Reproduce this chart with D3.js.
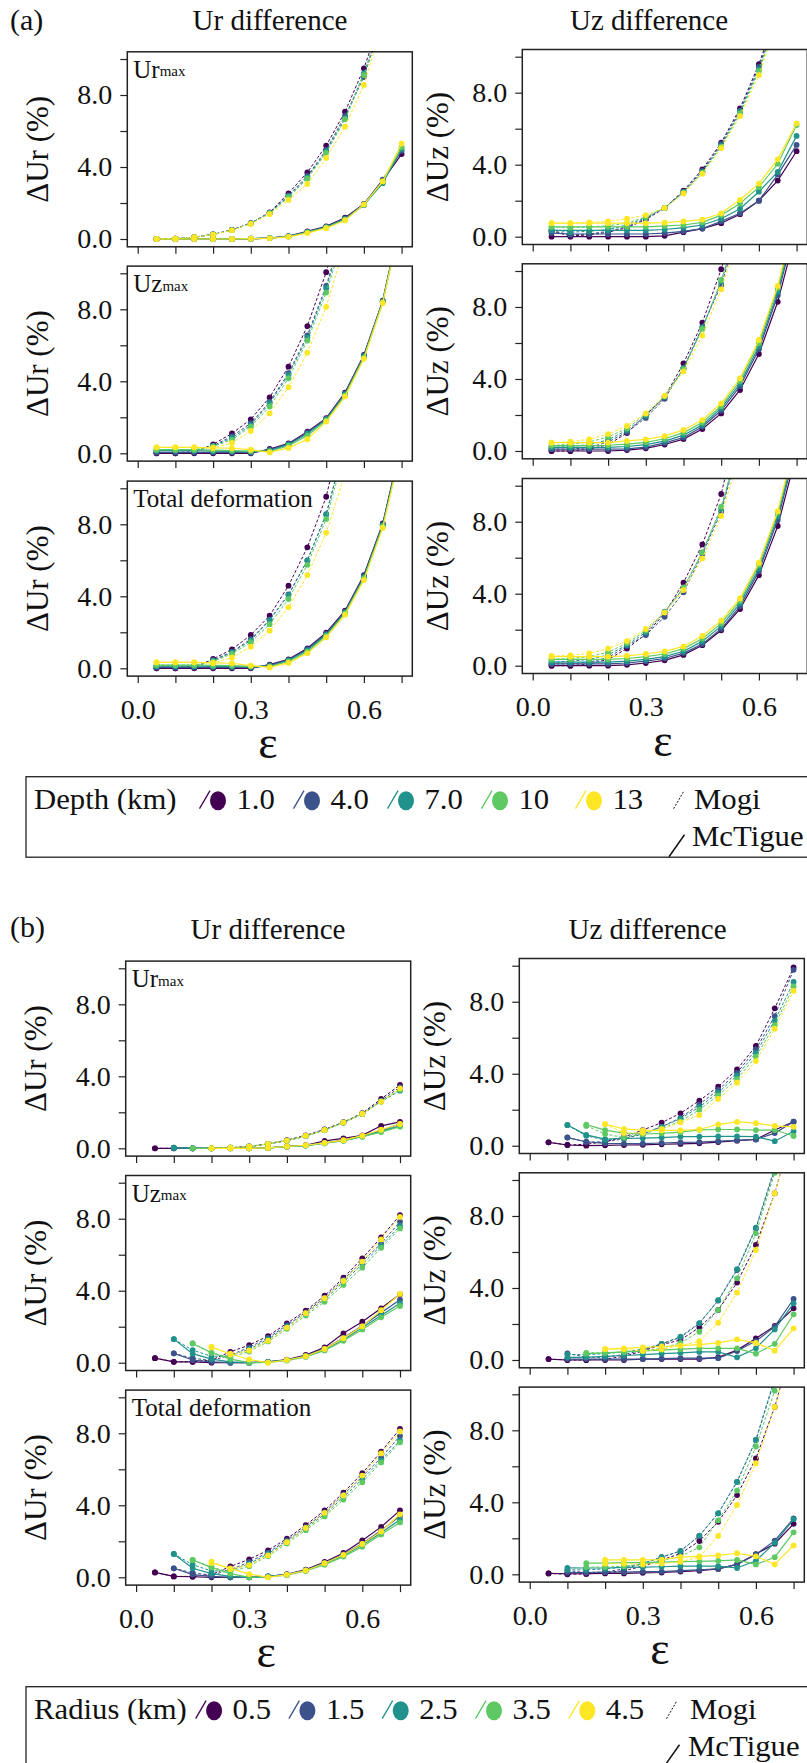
<!DOCTYPE html>
<html><head><meta charset="utf-8">
<script src="https://cdn.jsdelivr.net/npm/d3@7"></script>
<style>
body{margin:0;background:#fff;}
svg{display:block;font-family:"Liberation Serif","Times New Roman",serif;}
</style></head><body>
<svg id="c" width="807" height="1763"></svg>
<script>
// ---------- data ----------
const eps = [0.05,0.10,0.15,0.20,0.25,0.30,0.35,0.40,0.45,0.50,0.55,0.60,0.65,0.70];
const colors = ["#440154","#3b528b","#21918c","#5ec962","#fde725"];
const depthLabels = ["1.0","4.0","7.0","10","13"];
const radiusLabels = ["0.5","1.5","2.5","3.5","4.5"];
const yTicks = [0,2,4,6,8,10];
const yTickLabels = [0,4,8];
const xTicks = [0,0.1,0.2,0.3,0.4,0.5,0.6,0.7];
const xTickLabels = [0,0.3,0.6];

// (a) depth series: purple, blue, teal, green, yellow
const aUrMaxUr_mogi = [
 [0.0,0.02,0.1,0.26,0.5,0.88,1.48,2.54,3.7,5.19,7.07,9.48,12.5,null],
 [0.0,0.02,0.1,0.25,0.5,0.87,1.45,2.42,3.5,4.95,6.85,9.0,12.2,null],
 [0.0,0.02,0.1,0.25,0.5,0.87,1.45,2.38,3.42,4.88,6.72,9.2,12.3,null],
 [0.0,0.02,0.1,0.25,0.49,0.86,1.43,2.32,3.35,4.78,6.65,9.1,12.2,null],
 [0.0,0.02,0.1,0.24,0.48,0.84,1.38,2.17,3.06,4.5,6.24,8.56,12.0,null]];
const aUrMaxUr_mct = [
 [0.0,0.0,0.0,0.0,0.0,0.02,0.05,0.16,0.42,0.7,1.18,1.95,3.25,4.72],
 [0.0,0.0,0.0,0.0,0.0,0.02,0.05,0.15,0.4,0.68,1.15,1.93,3.3,4.9],
 [0.0,0.0,0.0,0.0,0.0,0.02,0.05,0.14,0.38,0.65,1.1,1.88,3.1,5.0],
 [0.0,0.0,0.0,0.0,0.0,0.02,0.05,0.14,0.37,0.64,1.08,1.9,3.2,5.1],
 [0.0,0.0,0.0,0.0,0.0,0.02,0.04,0.12,0.33,0.6,1.03,1.92,3.2,5.3]];
const aUrMaxUz_mogi = [
 [0.3,0.05,0.1,0.25,0.5,0.95,1.6,2.56,3.74,5.22,7.13,9.58,12.6,null],
 [0.35,0.1,0.15,0.3,0.55,1.0,1.6,2.5,3.65,5.15,7.0,9.45,12.4,null],
 [0.4,0.25,0.3,0.4,0.65,1.05,1.6,2.48,3.6,5.05,6.95,9.3,12.3,null],
 [0.55,0.5,0.55,0.6,0.75,1.1,1.6,2.45,3.55,5.0,6.85,9.2,12.2,null],
 [0.75,0.75,0.8,0.85,1.0,1.2,1.6,2.4,3.5,4.92,6.7,8.98,12.0,null]];
const aUrMaxUz_mct = [
 [0.0,0.0,0.0,0.0,0.0,0.0,0.05,0.25,0.45,0.75,1.25,2.0,3.12,4.75],
 [0.2,0.15,0.15,0.15,0.15,0.15,0.2,0.3,0.45,0.85,1.3,2.0,3.45,5.1],
 [0.35,0.35,0.35,0.35,0.35,0.35,0.4,0.5,0.65,1.0,1.55,2.5,3.6,5.6],
 [0.55,0.55,0.55,0.55,0.55,0.55,0.6,0.65,0.8,1.2,1.85,2.75,4.05,6.2],
 [0.75,0.75,0.75,0.75,0.75,0.75,0.78,0.85,0.95,1.3,2.05,2.95,4.3,6.3]];
const aUzMaxUr_mogi = [
 [0.0,0.0,0.05,0.5,1.1,1.89,3.11,4.81,7.07,10.06,13.8,null,null,null],
 [0.05,0.05,0.1,0.42,0.95,1.67,2.85,4.45,6.55,9.3,12.8,null,null,null],
 [0.15,0.15,0.15,0.4,0.85,1.57,2.78,4.35,6.44,9.17,12.6,null,null,null],
 [0.2,0.2,0.2,0.38,0.75,1.48,2.6,4.17,6.26,8.93,12.3,null,null,null],
 [0.33,0.33,0.33,0.3,0.58,1.24,2.22,3.67,5.59,8.14,11.6,null,null,null]];
const aUzMaxUr_mct = [
 [0.0,0.0,0.0,0.0,0.0,0.0,0.24,0.55,1.2,1.95,3.37,5.46,8.48,13.3],
 [0.05,0.05,0.05,0.05,0.05,0.03,0.2,0.52,1.15,1.92,3.32,5.42,8.45,13.2],
 [0.15,0.15,0.15,0.12,0.1,0.08,0.15,0.48,1.08,1.88,3.28,5.38,8.42,13.2],
 [0.2,0.2,0.2,0.18,0.15,0.12,0.1,0.42,0.98,1.83,3.22,5.32,8.4,13.2],
 [0.33,0.33,0.33,0.3,0.28,0.2,0.05,0.3,0.78,1.76,3.15,5.25,8.35,13.1]];
const aUzMaxUz_mogi = [
 [0.0,0.0,0.1,0.35,1.0,2.0,3.0,4.87,7.13,10.1,13.6,null,null,null],
 [0.1,0.1,0.2,0.5,1.05,1.84,2.9,4.6,6.9,9.22,12.6,null,null,null],
 [0.2,0.25,0.35,0.62,1.15,1.95,3.0,4.6,6.85,9.4,12.8,null,null,null],
 [0.3,0.38,0.5,0.78,1.25,2.05,3.05,4.55,6.78,9.5,12.9,null,null,null],
 [0.46,0.52,0.65,0.94,1.39,2.09,3.07,4.41,6.41,8.98,12.3,null,null,null]];
const aUzMaxUz_mct = [
 [0.0,0.0,0.0,0.0,0.05,0.15,0.36,0.66,1.22,2.09,3.39,5.39,8.29,12.3],
 [0.1,0.1,0.1,0.1,0.12,0.22,0.45,0.75,1.35,2.25,3.6,5.65,8.65,12.8],
 [0.2,0.2,0.2,0.2,0.25,0.35,0.55,0.88,1.45,2.38,3.75,5.8,8.85,13.0],
 [0.3,0.3,0.3,0.32,0.38,0.48,0.68,1.02,1.58,2.5,3.9,6.0,9.05,13.2],
 [0.46,0.46,0.46,0.46,0.56,0.65,0.83,1.17,1.72,2.65,4.04,6.17,9.17,13.5]];
const aTotUr_mogi = [
 [0.0,0.0,0.05,0.52,1.05,1.85,2.92,4.59,6.72,9.53,14.0,null,null,null],
 [0.05,0.05,0.08,0.45,0.92,1.62,2.7,4.1,6.0,8.55,12.5,null,null,null],
 [0.12,0.12,0.12,0.42,0.88,1.55,2.68,4.07,5.98,8.57,12.5,null,null,null],
 [0.18,0.18,0.18,0.38,0.8,1.45,2.45,3.85,5.75,8.3,12.1,null,null,null],
 [0.33,0.33,0.33,0.3,0.6,1.2,2.09,3.39,5.18,7.53,10.8,null,null,null]];
const aTotUr_mct = [
 [0.0,0.0,0.0,0.0,0.0,0.0,0.2,0.5,1.11,1.98,3.2,5.18,8.05,12.6],
 [0.05,0.05,0.05,0.05,0.05,0.03,0.17,0.47,1.06,1.92,3.15,5.12,8.0,12.5],
 [0.12,0.12,0.12,0.1,0.1,0.07,0.13,0.43,1.0,1.86,3.1,5.06,7.95,12.5],
 [0.18,0.18,0.18,0.16,0.15,0.11,0.09,0.38,0.92,1.8,3.04,5.0,7.88,12.4],
 [0.33,0.33,0.33,0.3,0.28,0.15,0.05,0.3,0.83,1.72,2.98,4.9,7.8,12.3]];
const aTotUz_mogi = [
 [0.0,0.0,0.1,0.35,0.95,1.75,2.9,4.61,6.74,9.54,14.0,null,null,null],
 [0.1,0.1,0.2,0.45,1.1,1.7,2.72,4.08,6.2,8.56,12.4,null,null,null],
 [0.2,0.25,0.35,0.6,1.15,1.85,3.0,4.3,6.3,8.7,12.5,null,null,null],
 [0.35,0.4,0.5,0.75,1.25,1.95,2.98,4.35,6.3,8.83,12.6,null,null,null],
 [0.54,0.57,0.69,0.95,1.37,2.04,2.95,4.2,5.96,8.32,11.8,null,null,null]];
const aTotUz_mct = [
 [0.0,0.0,0.0,0.0,0.05,0.15,0.3,0.6,1.14,1.97,3.15,5.03,7.76,11.8],
 [0.1,0.1,0.1,0.1,0.15,0.25,0.4,0.7,1.2,2.05,3.3,5.25,8.1,12.2],
 [0.2,0.2,0.2,0.2,0.25,0.35,0.5,0.8,1.35,2.2,3.45,5.4,8.3,12.4],
 [0.35,0.35,0.35,0.35,0.4,0.5,0.65,0.95,1.5,2.35,3.6,5.6,8.5,12.6],
 [0.5,0.5,0.5,0.5,0.55,0.65,0.8,1.07,1.65,2.5,3.74,5.72,8.59,12.8]];

// (b) radius series
const bUrMaxUr_mogi = [
 [0.0,0.0,0.0,0.0,0.03,0.1,0.25,0.45,0.72,1.05,1.45,1.95,2.74,3.52],
 [null,0.03,0.0,0.0,0.03,0.1,0.25,0.43,0.7,1.03,1.44,1.92,2.65,3.4],
 [null,0.03,0.0,0.0,0.03,0.1,0.24,0.42,0.68,1.02,1.42,1.9,2.6,3.2],
 [null,null,0.0,0.0,0.03,0.1,0.24,0.42,0.68,1.0,1.42,1.9,2.6,3.25],
 [null,null,null,0.0,0.03,0.1,0.25,0.43,0.7,1.02,1.44,1.92,2.59,3.33]];
const bUrMaxUr_mct = [
 [0.0,0.0,0.0,0.0,0.0,0.0,0.02,0.1,0.17,0.41,0.55,0.72,1.25,1.47],
 [null,0.02,0.0,0.0,0.0,0.0,0.02,0.1,0.16,0.3,0.45,0.68,1.0,1.35],
 [null,0.02,0.0,0.0,0.0,0.0,0.02,0.09,0.15,0.28,0.43,0.65,0.95,1.25],
 [null,null,0.0,0.0,0.0,0.0,0.02,0.09,0.15,0.28,0.42,0.64,0.9,1.2],
 [null,null,null,0.0,0.0,0.0,0.02,0.1,0.17,0.3,0.45,0.7,1.03,1.35]];
const bUrMaxUz_mogi = [
 [0.19,0.04,0.08,0.22,0.48,0.87,1.28,1.8,2.5,3.28,4.24,5.54,7.63,9.9],
 [null,0.46,0.2,0.22,0.38,0.65,1.05,1.55,2.3,3.1,4.05,5.35,7.2,9.77],
 [null,1.14,0.55,0.32,0.45,0.7,1.05,1.5,2.15,2.95,3.9,5.15,6.95,9.1],
 [null,null,1.1,0.65,0.45,0.65,0.95,1.35,2.0,2.8,3.7,4.95,6.7,8.85],
 [null,null,null,1.2,0.7,0.72,0.92,1.3,1.7,2.6,3.5,4.7,6.5,8.6]];
const bUrMaxUz_mct = [
 [0.19,0.04,0.0,0.02,0.04,0.05,0.08,0.1,0.13,0.2,0.28,0.35,0.87,1.33],
 [null,0.45,0.22,0.13,0.12,0.12,0.15,0.18,0.2,0.25,0.3,0.35,0.7,1.33],
 [null,1.15,0.6,0.37,0.4,0.42,0.45,0.5,0.5,0.52,0.52,0.5,0.25,0.8],
 [null,null,1.17,0.87,0.7,0.65,0.68,0.75,0.88,0.9,0.9,0.87,0.87,0.54],
 [null,null,null,1.2,0.93,0.85,0.85,0.85,0.9,1.19,1.32,1.25,1.1,1.05]];
const bUzMaxUr_mogi = [
 [0.25,0.05,0.05,0.15,0.6,0.98,1.48,2.19,2.89,3.72,4.72,5.8,6.96,8.2],
 [null,0.52,0.25,0.12,0.42,0.85,1.38,2.08,2.8,3.62,4.62,5.62,6.62,7.83],
 [null,1.31,0.7,0.35,0.38,0.75,1.3,2.0,2.72,3.52,4.48,5.48,6.5,7.6],
 [null,null,1.07,0.55,0.3,0.62,1.18,1.88,2.62,3.38,4.32,5.28,6.38,7.46],
 [null,null,null,0.89,0.45,0.68,1.22,1.95,2.75,3.58,4.55,5.62,6.85,8.1]];
const bUzMaxUr_mct = [
 [0.25,0.05,0.05,0.0,0.0,0.0,0.05,0.17,0.43,0.85,1.63,2.28,3.02,3.8],
 [null,0.52,0.15,0.05,0.0,0.0,0.05,0.15,0.38,0.78,1.38,2.05,2.78,3.5],
 [null,1.31,0.5,0.2,0.05,0.0,0.05,0.15,0.36,0.72,1.28,1.95,2.62,3.3],
 [null,null,1.07,0.55,0.2,0.0,0.02,0.12,0.32,0.68,1.22,1.85,2.52,3.15],
 [null,null,null,0.85,0.5,0.18,0.0,0.15,0.36,0.76,1.36,2.02,2.92,3.82]];
const bUzMaxUz_mogi = [
 [0.05,0.0,0.0,0.05,0.2,0.5,0.85,1.11,1.81,2.78,4.3,6.39,9.26,13.0],
 [null,0.37,0.15,0.15,0.3,0.55,0.9,1.25,2.04,3.3,5.0,7.31,10.6,null],
 [null,0.3,0.3,0.35,0.45,0.6,0.9,1.3,2.05,3.32,5.05,7.35,10.7,null],
 [null,null,0.4,0.4,0.45,0.5,0.65,0.95,1.57,2.78,4.54,7.04,10.4,null],
 [null,null,null,0.6,0.6,0.5,0.6,0.8,1.05,2.07,3.74,6.11,9.26,13.0]];
const bUzMaxUz_mct = [
 [0.05,0.0,0.0,0.0,0.0,0.05,0.05,0.05,0.05,0.15,0.55,1.2,1.89,2.87],
 [null,0.05,0.05,0.05,0.05,0.05,0.08,0.1,0.1,0.1,0.5,1.05,1.85,3.39],
 [null,0.15,0.15,0.2,0.25,0.3,0.35,0.4,0.45,0.45,0.15,0.65,1.7,3.15],
 [null,null,0.35,0.4,0.45,0.5,0.55,0.6,0.65,0.65,0.65,0.35,0.9,2.54],
 [null,null,null,0.6,0.65,0.7,0.75,0.8,0.85,0.95,1.15,0.95,0.52,1.76]];
const bTotUr_mogi = [
 [0.27,0.05,0.05,0.15,0.6,1.0,1.5,2.15,2.9,3.72,4.7,5.78,6.98,8.25],
 [null,0.5,0.25,0.12,0.42,0.85,1.38,2.05,2.8,3.6,4.6,5.6,6.65,7.85],
 [null,1.3,0.7,0.35,0.38,0.75,1.3,1.98,2.72,3.5,4.45,5.45,6.5,7.6],
 [null,null,0.96,0.55,0.3,0.62,1.18,1.88,2.62,3.38,4.32,5.28,6.38,7.5],
 [null,null,null,0.87,0.45,0.68,1.22,1.95,2.75,3.58,4.55,5.65,6.88,8.1]];
const bTotUr_mct = [
 [0.27,0.05,0.03,0.0,0.0,0.0,0.05,0.17,0.43,0.85,1.35,2.05,2.8,3.72],
 [null,0.5,0.15,0.05,0.0,0.0,0.05,0.15,0.4,0.8,1.28,1.88,2.6,3.4],
 [null,1.3,0.5,0.2,0.05,0.0,0.05,0.15,0.38,0.75,1.22,1.8,2.48,3.2],
 [null,null,0.96,0.55,0.2,0.0,0.02,0.12,0.35,0.7,1.15,1.7,2.38,3.05],
 [null,null,null,0.8,0.5,0.18,0.0,0.15,0.38,0.78,1.25,1.85,2.55,3.5]];
const bTotUz_mogi = [
 [0.05,0.0,0.02,0.08,0.2,0.45,0.8,1.15,1.85,2.92,4.4,6.44,9.3,13.0],
 [null,0.2,0.1,0.12,0.3,0.6,0.95,1.29,2.13,3.39,5.14,7.46,10.8,null],
 [null,0.25,0.25,0.3,0.4,0.6,0.95,1.3,2.15,3.39,5.14,7.46,10.9,null],
 [null,null,0.4,0.4,0.45,0.55,0.75,1.0,1.5,3.0,4.65,7.1,10.2,null],
 [null,null,null,0.6,0.6,0.55,0.6,0.7,0.95,2.13,3.85,6.17,9.3,13.0]];
const bTotUz_mct = [
 [0.05,0.03,0.03,0.05,0.05,0.08,0.1,0.15,0.2,0.3,0.55,1.12,1.7,2.8],
 [null,0.1,0.1,0.12,0.12,0.15,0.15,0.2,0.25,0.3,0.55,1.1,1.87,3.1],
 [null,0.36,0.35,0.35,0.38,0.4,0.42,0.45,0.45,0.45,0.35,0.75,1.75,3.06],
 [null,null,0.62,0.62,0.65,0.65,0.68,0.7,0.72,0.75,0.8,0.55,0.95,2.33],
 [null,null,null,0.8,0.8,0.8,0.82,0.95,1.0,1.05,1.17,1.0,0.55,1.6]];

// ---------- layout ----------
const svg = d3.select("#c");
const PW = 285, PH = 195;
const colLeft = [[127.3,522.3],[125.7,519.3]];
const zeroY = [[[239,453.3,668.3],[236.7,451,665.7]],[[1148.3,1362.7,1577.3],[1145.7,1360,1574.3]]];
const rowText = [["Ur","max"],["Uz","max"],["Total deformation",""]];
const data = [
 [[[aUrMaxUr_mogi,aUrMaxUr_mct],[aUrMaxUz_mogi,aUrMaxUz_mct]],
  [[aUzMaxUr_mogi,aUzMaxUr_mct],[aUzMaxUz_mogi,aUzMaxUz_mct]],
  [[aTotUr_mogi,aTotUr_mct],[aTotUz_mogi,aTotUz_mct]]],
 [[[bUrMaxUr_mogi,bUrMaxUr_mct],[bUrMaxUz_mogi,bUrMaxUz_mct]],
  [[bUzMaxUr_mogi,bUzMaxUr_mct],[bUzMaxUz_mogi,bUzMaxUz_mct]],
  [[bTotUr_mogi,bTotUr_mct],[bTotUz_mogi,bTotUz_mct]]]
];
let clipId = 0;
const near = (a,b)=>Math.abs(a-b)<1e-9;
const FONT = '"Liberation Serif","Times New Roman",serif';

for (let s=0;s<2;s++){
 for (let r=0;r<3;r++){
  for (let c=0;c<2;c++){
   const left = colLeft[s][c];
   const zero = zeroY[s][c][r];
   const top = zero - 187.2, bottom = top + PH;
   const x = d3.scaleLinear().domain([-0.0276,0.7284]).range([left,left+PW]);
   const y = d3.scaleLinear().domain([-0.4333,10.4]).range([bottom,top]);
   const g = svg.append("g");
   const ya = d3.axisLeft(y).tickValues(yTicks).tickSize(7).tickPadding(8)
     .tickFormat(d=> yTickLabels.some(v=>near(v,d)) ? d.toFixed(1) : "");
   const yg = g.append("g").attr("transform",`translate(${left},0)`).call(ya);
   const xa = d3.axisBottom(x).tickValues(xTicks).tickSize(7).tickPadding(16)
     .tickFormat(d=> (r===2 && xTickLabels.some(v=>near(v,d))) ? d.toFixed(1) : "");
   const xg = g.append("g").attr("transform",`translate(0,${bottom})`).call(xa);
   [yg,xg].forEach(a=>{
     a.attr("font-family",FONT);
     a.select(".domain").remove();
     a.selectAll("line").attr("stroke","#222").attr("stroke-width",1.2);
     a.selectAll("text").attr("font-size",28).attr("fill","#111");
   });
   const id = "clip"+(clipId++);
   g.append("clipPath").attr("id",id).append("rect")
     .attr("x",left).attr("y",top).attr("width",PW).attr("height",PH);
   const plot = g.append("g").attr("clip-path",`url(#${id})`);
   const [mogi,mct] = data[s][r][c];
   const line = d3.line().defined(d=>d[1]!=null).x(d=>x(d[0])).y(d=>y(d[1]));
   for (let i=0;i<5;i++){
     [[mogi[i],true],[mct[i],false]].forEach(([vals,dashed])=>{
       const pts = eps.map((e,k)=>[e,vals[k]]);
       plot.append("path").datum(pts).attr("d",line).attr("fill","none")
         .attr("stroke",colors[i]).attr("stroke-width",dashed?1.0:1.2)
         .attr("stroke-dasharray",dashed?"3,2":null);
       plot.selectAll(null).data(pts.filter(p=>p[1]!=null)).enter().append("circle")
         .attr("cx",p=>x(p[0])).attr("cy",p=>y(p[1])).attr("r",2.9)
         .attr("fill",colors[i]);
     });
   }
   g.append("rect").attr("x",left).attr("y",top).attr("width",PW).attr("height",PH)
     .attr("fill","none").attr("stroke","#222").attr("stroke-width",1.5);
   if (c===0){
     const t = g.append("text").attr("x",left+6).attr("y",top+26).attr("font-size",25).attr("fill","#111");
     t.append("tspan").text(rowText[r][0]);
     if (rowText[r][1]) t.append("tspan").attr("font-size",15).attr("dy",-1.5).text(rowText[r][1]);
   }
   const cy = (top+bottom)/2;
   const lx = c===0 ? left-79.7 : left-74;
   g.append("text").attr("transform",`translate(${lx},${cy}) rotate(-90)`)
     .attr("text-anchor","middle").attr("font-size",31).attr("fill","#111")
     .text(c===0 ? "ΔUr (%)" : "ΔUz (%)");
   if (r===2){
     g.append("text").attr("x",left+PW/2-2).attr("y",zero+90).attr("text-anchor","middle")
       .attr("font-size",46).attr("fill","#111").text("ε");
   }
  }
 }
}

// titles
const secTop = [0, 909];
const titleCx = [[270,649],[268,647.5]];
["(a)","(b)"].forEach((lab,s)=>{
  svg.append("text").attr("x",10).attr("y",30+secTop[s]-(s?2:0)).attr("font-size",30).attr("fill","#111").text(lab);
  ["Ur difference","Uz difference"].forEach((tt,c)=>{
    svg.append("text").attr("x",titleCx[s][c]).attr("y",29.5+secTop[s]).attr("text-anchor","middle")
      .attr("font-size",29).attr("fill","#111").text(tt);
  });
});

// legends
const legends = [
  {title:"Depth (km)", labels:depthLabels, y0:776.7, slash0:199.5, step:94, mogiX:673.6, mctX:669, txtX:694},
  {title:"Radius (km)", labels:radiusLabels, y0:1686.7, slash0:195.6, step:93.3, mogiX:666.5, mctX:664, txtX:690}
];
legends.forEach(L=>{
  const g = svg.append("g");
  g.append("rect").attr("x",26).attr("y",L.y0).attr("width",820).attr("height",80.5)
    .attr("fill","none").attr("stroke","#222").attr("stroke-width",1.3);
  const base = L.y0 + 32;
  const sx = 1.06;
  const txt = (x,yb,s)=> g.append("text").attr("transform",`translate(${x},${yb}) scale(${sx},1)`)
      .attr("font-size",29).attr("fill","#111").text(s);
  txt(34, base, L.title);
  L.labels.forEach((lab,i)=>{
    const xs = L.slash0 + i*L.step;
    g.append("line").attr("x1",xs).attr("y1",L.y0+32).attr("x2",xs+10.5).attr("y2",L.y0+14)
      .attr("stroke",colors[i]).attr("stroke-width",1.3);
    g.append("ellipse").attr("cx",xs+18.5).attr("cy",L.y0+24).attr("rx",8).attr("ry",9.5).attr("fill",colors[i]);
    txt(xs+37, base, lab);
  });
  g.append("line").attr("x1",L.mogiX).attr("y1",L.y0+32).attr("x2",L.mogiX+10.5).attr("y2",L.y0+14)
    .attr("stroke","#111").attr("stroke-width",1).attr("stroke-dasharray","2,1.5");
  txt(L.txtX, base, "Mogi");
  g.append("line").attr("x1",L.mctX).attr("y1",L.y0+80).attr("x2",L.mctX+15.5).attr("y2",L.y0+58)
    .attr("stroke","#111").attr("stroke-width",1.5);
  txt(L.txtX-2, L.y0+69, "McTigue");
});
</script>
</body></html>
